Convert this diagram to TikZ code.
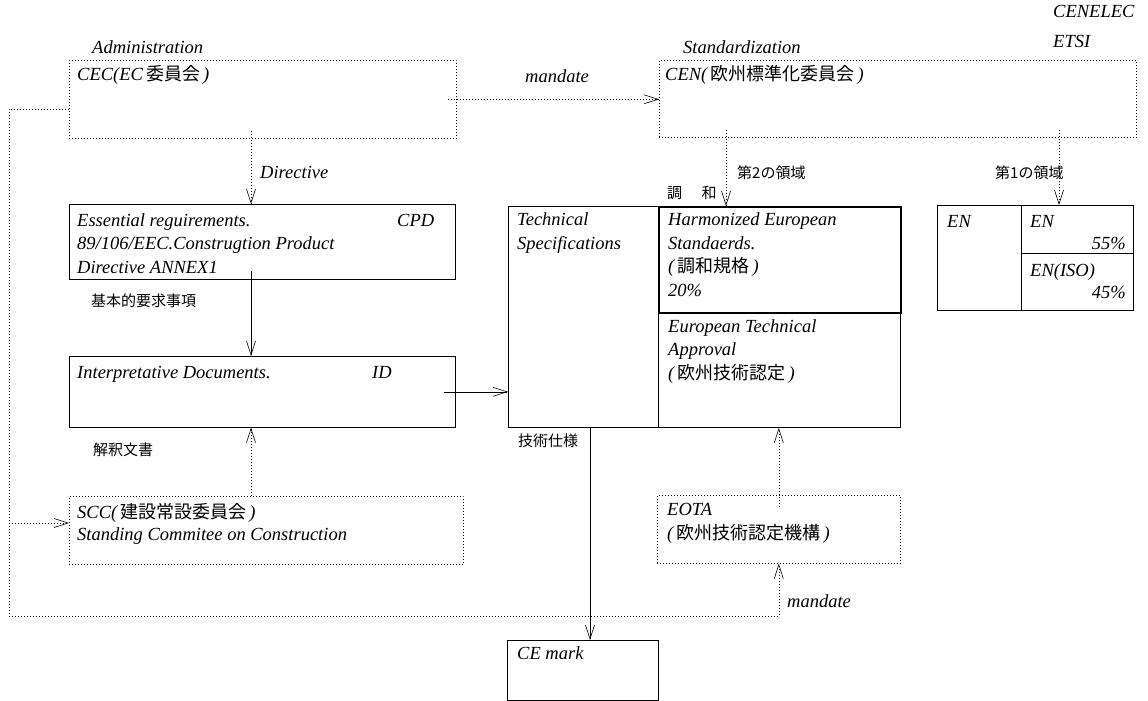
\documentclass[tikz,border=0pt]{standalone}
\usepackage{fontspec}
\setmainfont{Liberation Serif}
\newfontfamily\jp{Noto Sans CJK JP}
\usetikzlibrary{arrows.meta,calc}
\newcommand\jb[1]{{\jp\fontsize{18}{23.5}\selectfont #1}}
\tikzset{
  box/.style={draw, line width=0.6pt, inner sep=0pt, anchor=north west},
  dotbox/.style={box, dash pattern=on 0.8pt off 2.2pt},
  txt/.style={inner sep=0pt, anchor=base west, align=left, font=\fontsize{18.5}{23.5}\selectfont\itshape},
  jtxt/.style={inner sep=0pt, anchor=base west, font=\fontsize{15}{18}\selectfont\jp},
  arr/.style={line width=0.6pt, -{Straight Barb[length=14pt,width=9pt]}},
  dotarr/.style={arr, dash pattern=on 0.8pt off 2.2pt},
}

\begin{document}
\begin{tikzpicture}[x=1pt, y=-1pt]
	%%%%% START %%%%%
	\useasboundingbox (0,0) rectangle (1148,701);

	\node[dotbox, minimum width=387pt, minimum height=78pt] (cec) at (69,60) {};
	\node[dotbox, minimum width=477pt, minimum height=77pt] (cen) at (659,60) {};
	\node[box, minimum width=386pt, minimum height=75pt] (ess) at (69,204) {};
	\node[box, minimum width=386pt, minimum height=71pt] (interp) at (69,356) {};
	\node[dotbox, minimum width=394pt, minimum height=68pt] (scc) at (69,496) {};
	\node[box, line width=0.8pt, minimum width=392pt, minimum height=221pt] (tech) at (508,206) {};
	\node[box, line width=1.6pt, minimum width=242pt, minimum height=106pt] (harm) at (658,206) {};
	\node[box, line width=1.1pt, minimum width=196pt, minimum height=105pt] (en) at (937,205) {};
	\node[dotbox, minimum width=243pt, minimum height=68pt] (eota) at (657,495) {};
	\node[box, minimum width=151pt, minimum height=60pt] (ce) at (507,640) {};

	\draw[line width=0.8pt] (harm.south west) -- (harm.south west |- tech.south);
	\draw[line width=0.8pt] ([xshift=84pt]en.north west) -- ([xshift=84pt]en.south west);
	\draw[line width=0.8pt] ([xshift=84pt,yshift=-48pt]en.north west) -- ([yshift=-48pt]en.north east);

	% columns of the connectors
	\coordinate (c1) at (251,0);
	\coordinate (k2) at (726,0);
	\coordinate (k1) at (1059,0);
	\coordinate (k3) at (590,0);
	\coordinate (lt) at (9,109);
	\coordinate (ls) at (9,523);
	\coordinate (lb) at (9,616);

	\draw[dotarr] ($(cec.east)+(-9,0)$) -- (cen.west |- cec.east);
	\draw[dotarr] ($(cec.south -| c1)+(0,-8)$) -- (ess.north -| c1);
	\draw[arr] ($(ess.south -| c1)+(0,-9)$) -- (interp.north -| c1);
	\draw[dotarr] (scc.north -| c1) -- (interp.south -| c1);
	\draw[arr] ($(interp.east)+(-12,0)$) -- (tech.west |- interp.east);
	\draw[dotarr] ($(cen.south -| k2)+(0,-8)$) -- (harm.north -| k2);
	\draw[dotarr] ($(cen.south -| k1)+(0,-8)$) -- (en.north -| k1);
	\draw[arr] (tech.south -| k3) -- (ce.north -| k3);
	\draw[dotarr] ($(eota.north)+(0,12)$) -- (tech.south -| eota.north);
	\draw[dotarr] (cec.west |- lt) -- (lt) -- (lb) -| (eota.south);
	\draw[dotarr] (ls) -- (scc.west |- ls);

	% texts (multi-line ones sit on their last baseline)
	\node[txt] (adm) at (92,53) {Administration};
	\node[txt] (std) at (683,53) {Standardization};
	\node[txt] (cenelec) at (1053,18) {CENELEC};
	\node[txt] (etsi) at (1053,48) {ETSI};
	\node[txt] (cectxt) at (77,81) {CEC(EC\,\jb{委員会}\,)};
	\node[txt] (centxt) at (665,81) {CEN(\,\jb{欧州標準化委員会}\,)};
	\node[txt, anchor=base] (mand1) at (557,82) {mandate};
	\node[txt] (dir) at (260,178) {Directive};
	\node[jtxt] (area2) at (737,178) {第2の領域};
	\node[jtxt] (area1) at (995,178) {第1の領域};
	\node[jtxt] (chowa) at (667,198) {調\hspace{1.3em}和};

	\node[txt] (esstxt) at (77,273) {Essential reguirements.\\89/106/EEC.Construgtion Product\\Directive ANNEX1};
	\node[txt] (cpd) at (397,226) {CPD};
	\node[jtxt] (essjp) at (91,306) {基本的要求事項};
	\node[txt] (inttxt) at (77,378) {Interpretative Documents.};
	\node[txt] (idtxt) at (372,378) {ID};
	\node[jtxt] (intjp) at (93,455) {解釈文書};
	\node[txt] (scctxt) at (77,540) {SCC(\,\jb{建設常設委員会}\,)\\[-2pt]Standing Commitee on Construction};

	\node[txt] (techtxt) at (517,249) {Technical\\Specifications};
	\node[jtxt] (techjp) at (518,446) {技術仕様};
	\node[txt] (harmtxt) at (668,296) {Harmonized European\\Standaerds.\\(\,\jb{調和規格}\,)\\20\%};
	\node[txt] (etatxt) at (668,379) {European Technical\\Approval\\(\,\jb{欧州技術認定}\,)};

	\node[txt] (en0) at (947,227) {EN};
	\node[txt] (en1) at (1030,227) {EN};
	\node[txt, anchor=base east] (p55) at (1126,249) {55\%};
	\node[txt] (eniso) at (1030,276) {EN(ISO)};
	\node[txt, anchor=base east] (p45) at (1126,298) {45\%};

	\node[txt] (eotatxt) at (667,539) {EOTA\\(\,\jb{欧州技術認定機構}\,)};
	\node[txt] (mand2) at (787,607) {mandate};
	\node[txt] (cetxt) at (517,659) {CE mark};
	%%%%% END %%%%%
\end{tikzpicture}
\end{document}
